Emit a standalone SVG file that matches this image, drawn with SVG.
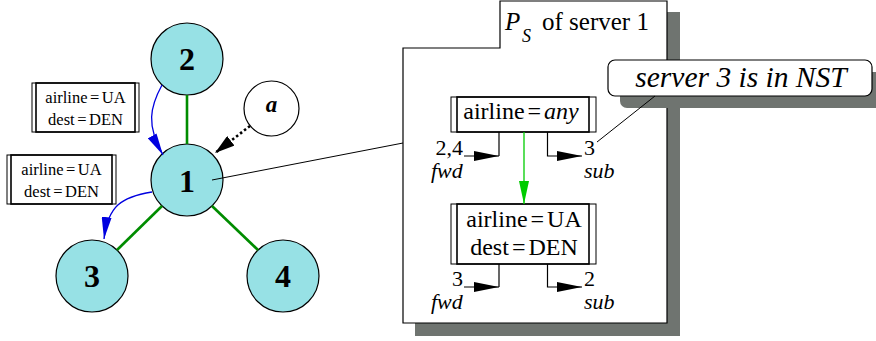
<svg xmlns="http://www.w3.org/2000/svg" width="876" height="341" viewBox="0 0 876 341">
<defs>
<style>
text{font-family:"Liberation Serif","Times New Roman",serif;fill:#000}
.node{fill:#97e1e5;stroke:#000;stroke-width:1.2}
.num{font-size:32px;font-weight:bold;text-anchor:middle}
.edge{stroke:#008c00;stroke-width:2.6;fill:none}
.blue{stroke:#0000e0;stroke-width:1.3;fill:none;marker-end:url(#mBlue)}
.thin{stroke:#000;stroke-width:1;fill:none}
.box{fill:#fff;stroke:#000;stroke-width:1}
.boxin{fill:none;stroke:#000;stroke-width:1.6}
.sm{font-size:16.5px;text-anchor:middle}
.md{font-size:24px;text-anchor:middle}
.lab{font-size:22px}
.it{font-style:italic}
.shadow{fill:#6f7470}
.elb{stroke:#000;stroke-width:1.2;fill:none}
.ar{marker-end:url(#mBlack)}
</style>
<marker id="mBlue" markerUnits="userSpaceOnUse" markerWidth="22" markerHeight="10" refX="22" refY="5" orient="auto" viewBox="0 0 22 10"><path d="M0,0 L22,5 L0,10 z" fill="#0000e0"/></marker>
<marker id="mBlack" markerUnits="userSpaceOnUse" markerWidth="25" markerHeight="10" refX="25" refY="5" orient="auto" viewBox="0 0 25 10"><path d="M0,0 L25,5 L0,10 z" fill="#000"/></marker>
<marker id="mGreen" markerUnits="userSpaceOnUse" markerWidth="23" markerHeight="10" refX="23" refY="5" orient="auto" viewBox="0 0 23 10"><path d="M0,0 L23,5 L0,10 z" fill="#00cc00"/></marker>
<marker id="mDot" markerUnits="userSpaceOnUse" markerWidth="20" markerHeight="12" refX="20" refY="6" orient="auto" viewBox="0 0 20 12"><path d="M0,0 L20,6 L0,12 z" fill="#000"/></marker>
</defs>

<!-- policy container -->
<g id="container">
<rect class="shadow" x="667" y="12" width="13" height="324"/>
<rect class="shadow" x="415" y="323" width="265" height="13"/>
<path d="M403,48 L500,48 L500,1 L667,1 L667,323 L403,323 Z" fill="#fff" stroke="#000" stroke-width="1.2"/>
<text x="505" y="30" font-size="25" class="it">P</text>
<text x="522" y="42" font-size="18" class="it">S</text>
<text x="542" y="30" font-size="25">of server 1</text>
</g>

<g id="box-any">
<rect class="box" x="451" y="97" width="145" height="35"/>
<rect class="boxin" x="457" y="97" width="132" height="35"/>
<text class="md" x="521" y="119">airline<tspan dx="3">=</tspan><tspan dx="3" class="it">any</tspan></text>
</g>

<g id="box-ua">
<rect class="box" x="451" y="204" width="145" height="60"/>
<rect class="boxin" x="457" y="204" width="132" height="60"/>
<text class="md" x="524" y="227">airline<tspan dx="3">=</tspan><tspan dx="3">UA</tspan></text>
<text class="md" x="524" y="255">dest<tspan dx="3">=</tspan><tspan dx="3">DEN</tspan></text>
</g>

<g id="labels">
<text class="lab" x="463" y="155" text-anchor="end">2,4</text>
<text class="lab it" x="431" y="178">fwd</text>
<text class="lab" x="584" y="155">3</text>
<text class="lab it" x="584" y="178">sub</text>
<text class="lab" x="463" y="286" text-anchor="end">3</text>
<text class="lab it" x="431" y="309">fwd</text>
<text class="lab" x="584" y="286">2</text>
<text class="lab it" x="584" y="309">sub</text>
</g>

<g id="callout">
<rect class="shadow" x="620" y="72" width="270" height="36" rx="7"/>
<rect x="608" y="60" width="264" height="36" rx="7" fill="#fff" stroke="#000" stroke-width="1.2"/>
<text x="741" y="87" font-size="29.5" class="it" text-anchor="middle">server 3 is in NST</text>
</g>

<!-- left graph nodes -->
<g id="filter-a">
<rect class="box" x="32" y="83" width="107" height="49"/>
<rect class="boxin" x="36" y="83" width="99" height="49"/>
<text class="sm" x="85.5" y="103">airline<tspan dx="2.5">=</tspan><tspan dx="2.5">UA</tspan></text>
<text class="sm" x="85.5" y="125">dest<tspan dx="2.5">=</tspan><tspan dx="2.5">DEN</tspan></text>
</g>
<g id="filter-b">
<rect class="box" x="7" y="155" width="109" height="49"/>
<rect class="boxin" x="11" y="155" width="101" height="49"/>
<text class="sm" x="61.5" y="175">airline<tspan dx="2.5">=</tspan><tspan dx="2.5">UA</tspan></text>
<text class="sm" x="61.5" y="197">dest<tspan dx="2.5">=</tspan><tspan dx="2.5">DEN</tspan></text>
</g>

<g id="n2"><circle class="node" cx="187" cy="59" r="36"/><text class="num" x="187" y="70">2</text></g>
<g id="n1"><circle class="node" cx="187" cy="180" r="36"/><text class="num" x="187" y="192">1</text></g>
<g id="n3"><circle class="node" cx="92" cy="276" r="36"/><text class="num" x="92" y="287">3</text></g>
<g id="n4"><circle class="node" cx="283" cy="276" r="36"/><text class="num" x="283" y="287">4</text></g>
<g id="na"><circle cx="271.5" cy="108.5" r="27.5" fill="#fff" stroke="#000" stroke-width="1.2"/><text x="271.5" y="112" font-size="23" font-weight="bold" class="it" text-anchor="middle">a</text></g>

<g id="connectors">
<line class="edge" x1="187" y1="95" x2="187" y2="144"/>
<line class="edge" x1="162" y1="206" x2="117" y2="250"/>
<line class="edge" x1="212" y1="206" x2="258" y2="250"/>
<path class="blue" d="M162,85 C150,107 146,125 163,155"/>
<path class="blue" d="M152,192 C121,197 108,206 104,239"/>
<path d="M250,126 L215,153" stroke="#000" stroke-width="2.6" stroke-dasharray="2.5,2.5" fill="none" marker-end="url(#mDot)"/>
<line class="thin" x1="212" y1="180" x2="403" y2="143"/>
<line class="thin" x1="655" y1="96" x2="597" y2="142"/>
<line x1="524" y1="132" x2="524" y2="204" stroke="#00cc00" stroke-width="1.3" marker-end="url(#mGreen)"/>
<path class="elb" d="M499,132 L499,156"/>
<path class="elb ar" d="M464,156 L499,156"/>
<path class="elb ar" d="M547.5,132 L547.5,156 L582,156"/>
<path class="elb" d="M499,264 L499,287"/>
<path class="elb ar" d="M464,287 L499,287"/>
<path class="elb ar" d="M547.5,264 L547.5,287 L582,287"/>
</g>
</svg>
